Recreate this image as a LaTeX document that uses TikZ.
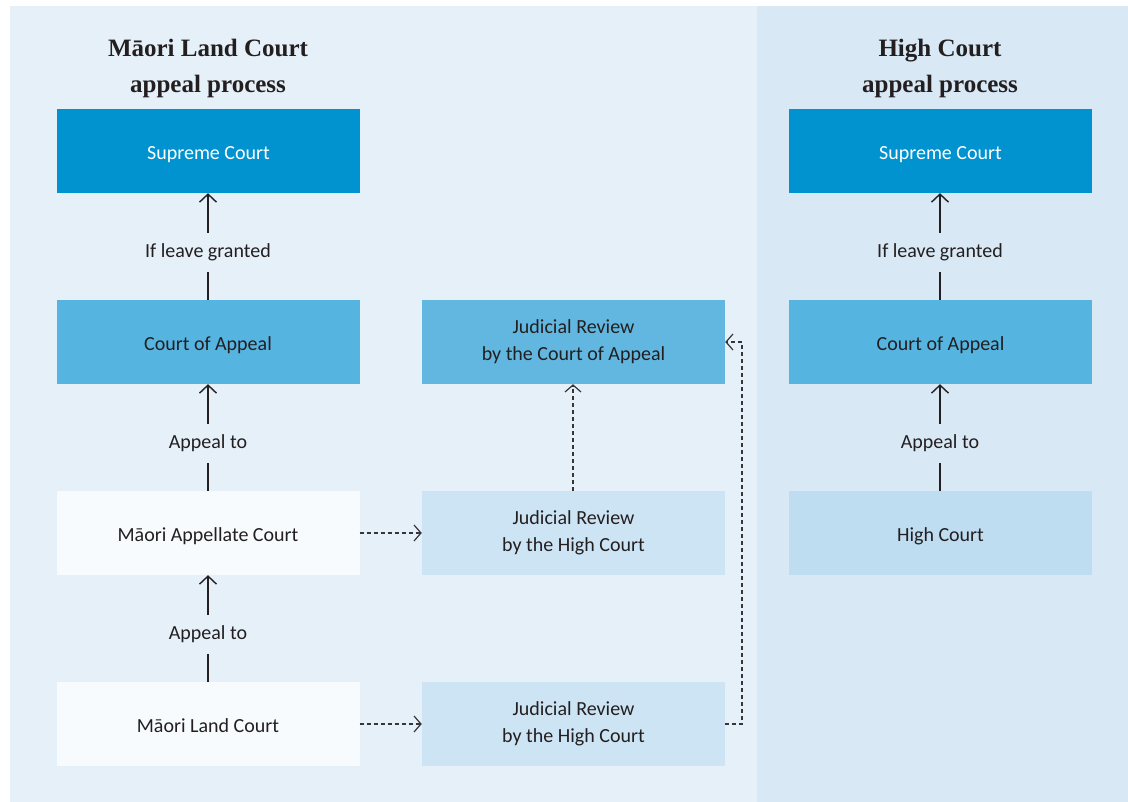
\documentclass[tikz,border=0pt]{standalone}
\usepackage{fontspec}
\setmainfont{Carlito}
\newfontfamily\titlefont{Liberation Serif}
\usetikzlibrary{arrows.meta}
\definecolor{panelL}{HTML}{E6F0F9}
\definecolor{panelR}{HTML}{D9E8F5}
\definecolor{supc}{HTML}{0093D0}
\definecolor{coac}{HTML}{56B4E1}
\definecolor{jrcoac}{HTML}{62B7E1}
\definecolor{jrhcc}{HTML}{CDE4F4}
\definecolor{hcc}{HTML}{BFDDF1}
\definecolor{whitec}{HTML}{F7FBFE}
\definecolor{ink}{HTML}{231F20}
\newcommand{\oneline}[1]{\smash{\raisebox{-8.5pt}{#1}}}
\tikzset{
  box/.style={minimum width=303pt,minimum height=84pt,inner sep=0pt,align=center,
    font=\fontsize{20}{27}\selectfont,text=ink},
  lbl/.style={inner xsep=2pt,inner ysep=11pt,font=\fontsize{20}{22}\selectfont,text=ink},
  ttl/.style={align=center,font=\titlefont\bfseries\fontsize{25}{36}\selectfont,text=ink},
  solidarrow/.style={draw=ink,line width=1.8pt,-{Straight Barb[length=8pt,width=17pt,line width=1.4pt]}},
  solidline/.style={draw=ink,line width=1.8pt},
  dasharrow/.style={draw=ink!90,line width=1.3pt,dash pattern=on 4pt off 3pt,-{Straight Barb[length=7pt,width=16pt,line width=1.2pt]}},
}
\begin{document}
\begin{tikzpicture}[x=1pt,y=-1pt]
\useasboundingbox (0,0) rectangle (1128,802);
\fill[white] (0,0) rectangle (1128,802);
\fill[panelL] (10,6) rectangle (757,802);
\fill[panelR] (757,6) rectangle (1128,802);

\node[ttl] (t1) at (208,68.5) {Māori Land Court\\appeal process};
\node[ttl] (t2) at (940,68.5) {High Court\\appeal process};

\node[box,fill=supc,text=white] (sc1) at (208.5,151) {\oneline{Supreme Court}};
\node[box,fill=coac] (ca1) at (208,342) {\oneline{Court of Appeal}};
\node[box,fill=whitec] (mac) at (208,533) {\oneline{Māori Appellate Court}};
\node[box,fill=whitec] (mlc) at (208,724) {\oneline{Māori Land Court}};

\node[box,fill=jrcoac] (jrca) at (573.5,342) {Judicial Review\\by the Court of Appeal};
\node[box,fill=jrhcc] (jrh1) at (573.5,533) {Judicial Review\\by the High Court};
\node[box,fill=jrhcc] (jrh2) at (573.5,724) {Judicial Review\\by the High Court};

\node[box,fill=supc,text=white] (sc2) at (940.5,151) {\oneline{Supreme Court}};
\node[box,fill=coac] (ca2) at (940.5,342) {\oneline{Court of Appeal}};
\node[box,fill=hcc] (hc) at (940.5,533) {\oneline{High Court}};

\node[lbl] (l1) at (208,252.5) {If leave granted};
\node[lbl] (l2) at (208,443.5) {Appeal to};
\node[lbl] (l3) at (208,634.5) {Appeal to};
\node[lbl] (l4) at (940,252.5) {If leave granted};
\node[lbl] (l5) at (940,443.5) {Appeal to};

\draw[solidline] (ca1.north) -- (l1.south);
\draw[solidarrow] (l1.north) -- (sc1.south -| l1.north);
\draw[solidline] (mac.north) -- (l2.south);
\draw[solidarrow] (l2.north) -- (ca1.south);
\draw[solidline] (mlc.north) -- (l3.south);
\draw[solidarrow] (l3.north) -- (mac.south);
\draw[solidline] (hc.north -| l5.south) -- (l5.south);
\draw[solidline] (ca2.north -| l4.south) -- (l4.south);
\draw[solidarrow] (l4.north) -- (sc2.south -| l4.north);
\draw[solidarrow] (l5.north) -- (ca2.south -| l5.north);

\draw[dasharrow] (mac.east) -- (jrh1.west);
\draw[dasharrow] (mlc.east) -- (jrh2.west);
\draw[dasharrow] ([xshift=-0.5pt]jrh1.north) -- ([xshift=-0.5pt]jrca.south);
\coordinate (c1) at (742,724);
\coordinate (c2) at (742,342);
\draw[dasharrow] (jrh2.east) -- (c1) -- (c2) -- (jrca.east);
\end{tikzpicture}
\end{document}
